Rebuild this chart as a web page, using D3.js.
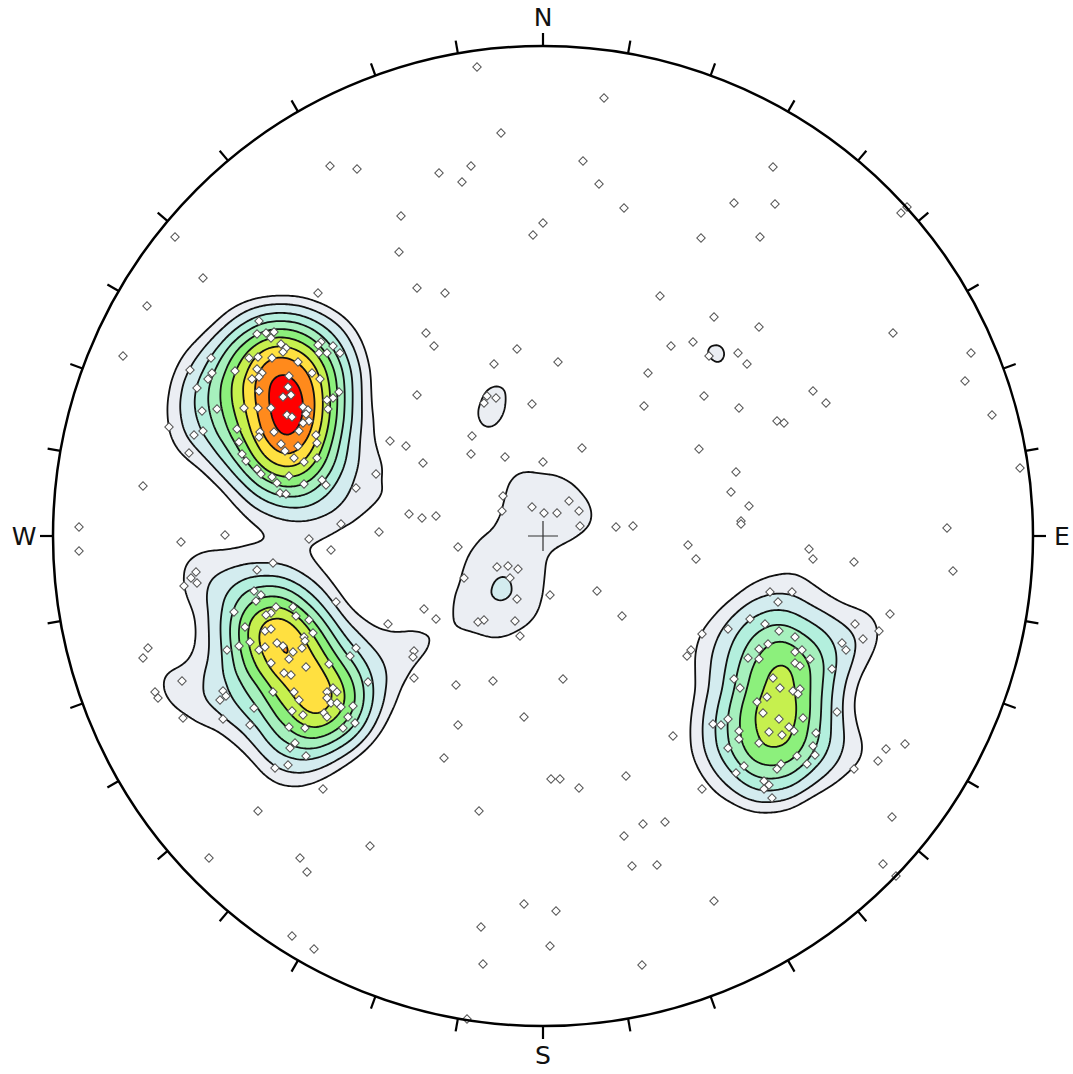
<!DOCTYPE html>
<html>
<head>
<meta charset="utf-8">
<script src="https://cdn.jsdelivr.net/npm/d3@7"></script>
<style>
  html, body { margin: 0; padding: 0; background: #fff; }
  svg { display: block; }
</style>
</head>
<body>
<div id="chart"></div>
<script>
// Poles in projected net coordinates [east, north], net radius = 490 units
const clusterNW = [
  [-340,258],[-396,230],[-225,243],[-284,215],[-286,202],[-277,203],[-269,204],[-272,198],[-262,192],[-257,188],
  [-260,184],[-222,194],[-225,191],[-210,190],[-203,183],[-224,183],[-216,183],[-332,178],[-294,178],[-285,179],
  [-271,178],[-245,174],[-308,165],[-286,167],[-281,163],[-291,157],[-284,159],[-254,160],[-231,163],[-223,157],
  [-353,166],[-335,157],[-331,163],[-346,148],[-284,145],[-255,149],[-260,139],[-252,141],[-204,144],[-210,138],
  [-216,136],[-215,127],[-326,127],[-341,125],[-299,128],[-285,128],[-272,128],[-240,129],[-235,126],[-237,122],
  [-256,121],[-251,119],[-234,115],[-240,113],[-374,109],[-340,105],[-349,101],[-306,107],[-269,104],[-244,105],
  [-283,104],[-284,99],[-227,101],[-354,83],[-304,94],[-262,92],[-258,85],[-245,90],[-226,93],[-301,82],
  [-297,75],[-249,78],[-239,74],[-226,78],[-286,67],[-282,62],[-271,59],[-254,60],[-266,53],[-239,52],
  [-221,56],[-217,51],[-263,43],[-257,42],[-167,62],[-187,48],[-400,50],[-153,95],[-368,299],[-420,180]
];
const clusterSW = [
  [-202,12],[-164,4],[-362,-6],[-318,1],[-234,-3],[-212,-14],[-270,-27],[-286,-34],[-347,-36],[-352,-42],
  [-346,-47],[-359,-50],[-289,-55],[-282,-59],[-287,-65],[-309,-76],[-267,-71],[-272,-77],[-277,-79],[-250,-71],
  [-247,-80],[-234,-84],[-207,-66],[-155,-88],[-298,-91],[-278,-95],[-272,-93],[-230,-97],[-239,-101],[-238,-105],
  [-304,-110],[-293,-106],[-284,-114],[-278,-111],[-266,-107],[-260,-110],[-241,-112],[-250,-116],[-254,-123],[-272,-127],
  [-237,-131],[-214,-128],[-187,-112],[-193,-120],[-316,-114],[-395,-112],[-400,-122],[-259,-137],[-252,-139],[-361,-145],
  [-175,-146],[-270,-156],[-249,-156],[-210,-152],[-206,-156],[-216,-156],[-216,-162],[-244,-164],[-212,-167],[-206,-167],
  [-202,-171],[-320,-155],[-317,-160],[-323,-164],[-388,-156],[-385,-162],[-289,-172],[-251,-175],[-240,-179],[-219,-177],
  [-216,-181],[-190,-170],[-195,-181],[-188,-187],[-200,-192],[-360,-182],[-320,-183],[-293,-189],[-254,-191],[-238,-192],
  [-248,-207],[-253,-212],[-237,-220],[-268,-232],[-255,-229],[-220,-253]
];
const clusterSE = [
  [270,-23],[266,-13],[311,-26],[227,-56],[249,-56],[235,-66],[347,-78],[159,-98],[185,-93],[207,-83],
  [222,-88],[236,-95],[252,-101],[312,-88],[336,-95],[320,-103],[299,-107],[303,-114],[148,-114],[144,-120],
  [225,-108],[216,-113],[205,-122],[216,-123],[252,-116],[259,-114],[267,-123],[252,-127],[257,-130],[289,-133],
  [191,-143],[230,-142],[197,-152],[237,-152],[250,-155],[257,-153],[255,-158],[224,-161],[214,-166],[220,-177],
  [260,-182],[294,-176],[236,-183],[170,-188],[178,-189],[185,-183],[246,-191],[251,-195],[226,-196],[239,-199],
  [196,-195],[196,-203],[273,-197],[130,-200],[216,-207],[270,-210],[185,-212],[272,-219],[254,-220],[264,-228],
  [343,-213],[362,-208],[335,-225],[311,-233],[201,-230],[238,-228],[234,-233],[193,-237],[221,-245],[226,-249],
  [221,-253],[229,-262],[159,-253],[349,-281],[153,-23],[145,-9]
];
const scattered = [
  [-66,469],[61,438],[-42,403],[-213,370],[-186,367],[-104,363],[-81,354],[-72,370],[40,375],[56,352],
  [81,328],[-142,320],[0,313],[-10,301],[-144,284],[-126,248],[-98,243],[230,369],[191,333],[232,332],
  [158,298],[217,299],[358,323],[364,329],[117,240],[171,219],[216,209],[128,190],[150,194],[166,180],
  [195,183],[204,172],[105,163],[101,130],[161,140],[196,128],[270,145],[283,133],[234,115],[241,113],
  [350,203],[428,183],[422,155],[449,121],[-117,203],[-109,190],[-26,187],[-49,172],[15,174],[-126,141],
  [-56,140],[-59,133],[-47,138],[-11,132],[-137,90],[-120,73],[-71,100],[-72,82],[-38,79],[0,74],
  [39,88],[-40,40],[-41,25],[-11,29],[1,23],[14,23],[26,35],[36,25],[37,10],[73,9],
  [90,10],[-134,22],[-121,18],[-107,20],[-85,-11],[-46,-31],[-35,-30],[-25,-33],[-33,-42],[-79,-42],
  [-26,-63],[7,-59],[54,-55],[79,-80],[-119,-73],[-107,-83],[-65,-86],[-59,-84],[-28,-85],[-23,-100],
  [-129,-115],[-130,-121],[-129,-142],[-87,-149],[-50,-145],[20,-143],[-19,-181],[-85,-189],[-99,-222],[8,-243],
  [17,-243],[36,-252],[83,-240],[156,87],[193,64],[188,44],[206,30],[198,15],[198,12],[404,8],
  [410,-35],[477,68],[-464,9],[-464,-15],[-285,-275],[-64,-275],[-334,-322],[-243,-322],[-236,-336],[-173,-310],
  [-19,-368],[13,-375],[-62,-391],[7,-410],[-60,-428],[-251,-400],[-229,-413],[-76,-483],[100,-288],[122,-286],
  [81,-300],[89,-330],[114,-329],[171,-365],[99,-429],[340,-328],[353,-340]
];

const netRadius = 490;
const tickAzimuths = d3.range(0, 360, 10);
const cardinals = [
  { label: 'N', az: 0 }, { label: 'E', az: 90 }, { label: 'S', az: 180 }, { label: 'W', az: 270 }
];
const contourColors = ['#ebeef3', '#d3ecef', '#b3efdd', '#a6f0bd', '#8cf07c', '#c6f04e', '#ffe040', '#ff8a1c', '#ff0000'];
// contour levels as a fraction of the peak density
const contourLevels = [0.2, 0.28, 0.376, 0.471, 0.567, 0.663, 0.758, 0.854, 0.95];

const width = 1073, height = 1074;
const cx = 543, cy = 536, R = 490;

const svg = d3.select('#chart').append('svg')
  .attr('width', width)
  .attr('height', height);

const x = d3.scaleLinear().domain([-netRadius, netRadius]).range([cx - R, cx + R]);
const y = d3.scaleLinear().domain([-netRadius, netRadius]).range([cy + R, cy - R]);

const poles = [...clusterNW, ...clusterSW, ...clusterSE, ...scattered];

// clip to primitive circle
svg.append('defs').append('clipPath').attr('id', 'net-clip')
  .append('circle').attr('cx', cx).attr('cy', cy).attr('r', R);

// density contours
const estimator = d3.contourDensity()
  .x(d => x(d[0]))
  .y(d => y(d[1]))
  .size([width, height])
  .cellSize(2)
  .bandwidth(30);

let maxDensity;
if (typeof estimator.contours === 'function') {
  maxDensity = estimator.contours(poles).max;
} else {
  const probe = estimator.thresholds(400)(poles);
  maxDensity = d3.max(probe.filter(c => c.coordinates.length), c => c.value);
}
const contours = estimator.thresholds(contourLevels.map(f => f * maxDensity))(poles);

const contourG = svg.append('g').attr('clip-path', 'url(#net-clip)');
contourG.selectAll('path')
  .data(contours)
  .join('path')
  .attr('d', d3.geoPath())
  .attr('fill', (d, i) => contourColors[i])
  .attr('stroke', '#111')
  .attr('stroke-width', 1.8)
  .attr('stroke-linejoin', 'round');

// centre cross
svg.append('path')
  .attr('d', `M${cx - 15},${cy}H${cx + 15}M${cx},${cy - 15}V${cy + 15}`)
  .attr('stroke', '#333')
  .attr('stroke-width', 1.2);

// poles
const diamond = d3.symbol().type(d3.symbolSquare).size(36);
svg.append('g').selectAll('path')
  .data(poles)
  .join('path')
  .attr('d', diamond)
  .attr('transform', d => `translate(${x(d[0])},${y(d[1])}) rotate(45)`)
  .attr('fill', '#fff')
  .attr('stroke', '#555')
  .attr('stroke-width', 1);

// primitive circle
svg.append('circle')
  .attr('cx', cx).attr('cy', cy).attr('r', R)
  .attr('fill', 'none')
  .attr('stroke', '#000')
  .attr('stroke-width', 2.5);

// ticks every 10 degrees, pointing outward
const polar = (az, r) => {
  const a = az * Math.PI / 180;
  return [cx + r * Math.sin(a), cy - r * Math.cos(a)];
};
svg.append('g').selectAll('line')
  .data(tickAzimuths)
  .join('line')
  .attr('x1', d => polar(d, R)[0])
  .attr('y1', d => polar(d, R)[1])
  .attr('x2', d => polar(d, R + 13)[0])
  .attr('y2', d => polar(d, R + 13)[1])
  .attr('stroke', '#000')
  .attr('stroke-width', 2.2);

svg.append('g').selectAll('text')
  .data(cardinals)
  .join('text')
  .attr('x', d => polar(d.az, R + 29)[0])
  .attr('y', d => polar(d.az, R + 29)[1])
  .attr('text-anchor', 'middle')
  .attr('dominant-baseline', 'central')
  .style('font-family', '"DejaVu Sans", sans-serif')
  .style('font-size', '25px')
  .style('fill', '#111')
  .text(d => d.label);
</script>
</body>
</html>
